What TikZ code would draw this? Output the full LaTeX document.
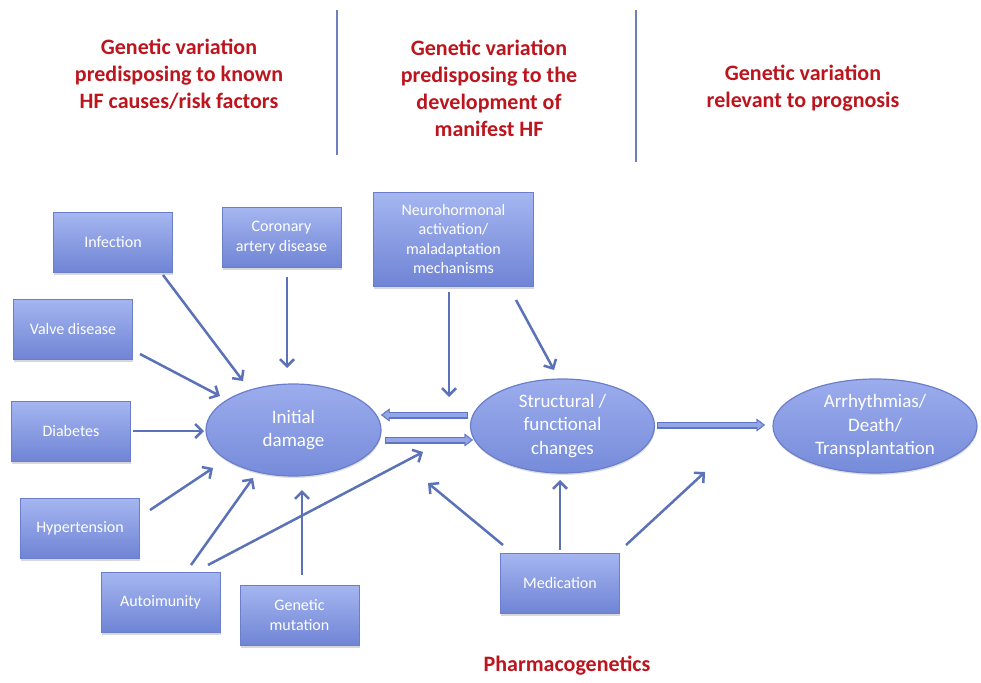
\documentclass[tikz,border=0pt]{standalone}
\usepackage{fontspec}
\setmainfont{Carlito}
\usetikzlibrary{arrows.meta,shapes.geometric,shadows,calc}
\definecolor{boxtop}{HTML}{A5B6F0}
\definecolor{boxbot}{HTML}{6F84D5}
\definecolor{boxdraw}{HTML}{6A7ECB}
\definecolor{elltop}{HTML}{9CADED}
\definecolor{ellbot}{HTML}{768BDA}
\definecolor{arrowc}{HTML}{5B71B8}
\definecolor{fatfill}{HTML}{93A6E8}
\definecolor{fatdraw}{HTML}{5F75C4}
\definecolor{headred}{HTML}{BC151E}
\definecolor{sepline}{HTML}{6E80BC}
\begin{document}
\begin{tikzpicture}[x=1pt,y=-1pt,
 box/.style={rectangle, draw=boxdraw, line width=1pt, top color=boxtop, bottom color=boxbot,
   text=white, font=\fontsize{16}{19.5}\selectfont, align=center, minimum width=119pt,
   minimum height=60pt, inner sep=2pt,
   drop shadow={shadow xshift=0.5pt, shadow yshift=-2.5pt, opacity=0.3}},
 oval/.style={ellipse, draw=boxdraw, line width=1.2pt, top color=elltop, bottom color=ellbot,
   text=white, font=\fontsize{19}{23.5}\selectfont, align=center, inner sep=0pt,
   drop shadow={shadow xshift=0.5pt, shadow yshift=-2pt, opacity=0.25}},
 heading/.style={text=headred, font=\bfseries\fontsize{22}{27}\selectfont, align=center},
 thin/.style={draw=arrowc, line width=2.5pt, -{Straight Barb[length=7pt,width=14pt]}},
 fatout/.style={draw=fatdraw, line width=7pt, -{Triangle[length=8.5pt,width=13pt,line width=0.4pt]}},
 fatin/.style={draw=fatfill, line width=4.2pt, -{Triangle[length=5.5pt,width=8.5pt,line width=0.4pt]},
   shorten >=2pt, shorten <=1.4pt}
]
\fill[white] (0,0) rectangle (981,682);
\useasboundingbox (0,0) rectangle (981,682);

% separators
\draw[sepline, line width=2.2pt] (337,10) -- (337,155);
\draw[sepline, line width=2.2pt] (636,10) -- (636,162);

% headings
\node[heading] (h1) at (179,74) {Genetic variation\\predisposing to known\\HF causes/risk factors};
\node[heading] (h2) at (489,88) {Genetic variation\\predisposing to the\\development of\\manifest HF};
\node[heading] (h3) at (803,88) {Genetic variation\\relevant to prognosis};
\node[heading] (ph) at (567,666) {Pharmacogenetics};

% boxes
\node[box] (inf) at (113,242.5) {Infection};
\node[box] (cor) at (281.5,237.5) {Coronary\\artery disease};
\node[box] (val) at (73,329) {Valve disease};
\node[box] (dia) at (71,431) {Diabetes};
\node[box] (hyp) at (80,528) {Hypertension};
\node[box] (aut) at (160.5,602) {Autoimunity};
\node[box] (gen) at (299.5,615) {Genetic\\mutation};
\node[box, minimum width=160pt, minimum height=94pt] (neu) at (453.5,239)
  {Neurohormonal\\activation/\\maladaptation\\mechanisms};
\node[box] (med) at (560,583) {Medication};

% ellipses
\node[oval, minimum width=175pt, minimum height=92pt] (ini) at (293.5,430) {Initial\\damage};
\node[oval, minimum width=184pt, minimum height=94pt] (str) at (562.5,426) {Structural /\\functional\\changes};
\node[oval, minimum width=204pt, minimum height=94pt] (arr) at (875,426) {Arrhythmias/\\Death/\\Transplantation};

% thin arrows
\draw[thin] ($(inf)+(50,32.5)$) -- ($(ini)+(-50.5,-49)$);
\draw[thin] ($(cor)+(5.5,39.5)$) -- ($(ini)+(-6.5,-62)$);
\draw[thin] ($(val)+(67,25)$) -- ($(ini)+(-73.5,-34)$);
\draw[thin] ($(dia)+(62,0)$) -- ($(ini)+(-89.5,1)$);
\draw[thin] ($(hyp)+(70,-18)$) -- ($(ini)+(-80.5,38)$);
\draw[thin] ($(aut)+(30.5,-37)$) -- ($(ini)+(-40.5,48)$);
\draw[thin] ($(aut)+(47.5,-37)$) -- ($(str)+(-139.5,26)$);
\draw[thin] ($(gen)+(2.5,-40)$) -- ($(ini)+(8.5,60)$);
\draw[thin] ($(neu)+(-4.5,53)$) -- ($(str)+(-113.5,-29)$);
\draw[thin] ($(neu)+(62.5,61)$) -- ($(str)+(-8.5,-56)$);
\draw[thin] ($(med)+(-57,-38)$) -- ($(str)+(-134.5,57)$);
\draw[thin] ($(med)+(0,-33)$) -- ($(str)+(-2.5,54)$);
\draw[thin] ($(med)+(66,-38)$) -- ($(arr)+(-170,46)$);

% fat arrows
\draw[fatout] ($(str)+(-94.5,-11)$) -- ($(ini)+(87.5,-15)$);
\draw[fatin]  ($(str)+(-94.5,-11)$) -- ($(ini)+(87.5,-15)$);
\draw[fatout] ($(ini)+(91.5,10)$) -- ($(str)+(-89.5,14)$);
\draw[fatin]  ($(ini)+(91.5,10)$) -- ($(str)+(-89.5,14)$);
\draw[fatout] ($(str)+(94.5,-1)$) -- ($(arr)+(-110,-1)$);
\draw[fatin]  ($(str)+(94.5,-1)$) -- ($(arr)+(-110,-1)$);
\end{tikzpicture}
\end{document}
